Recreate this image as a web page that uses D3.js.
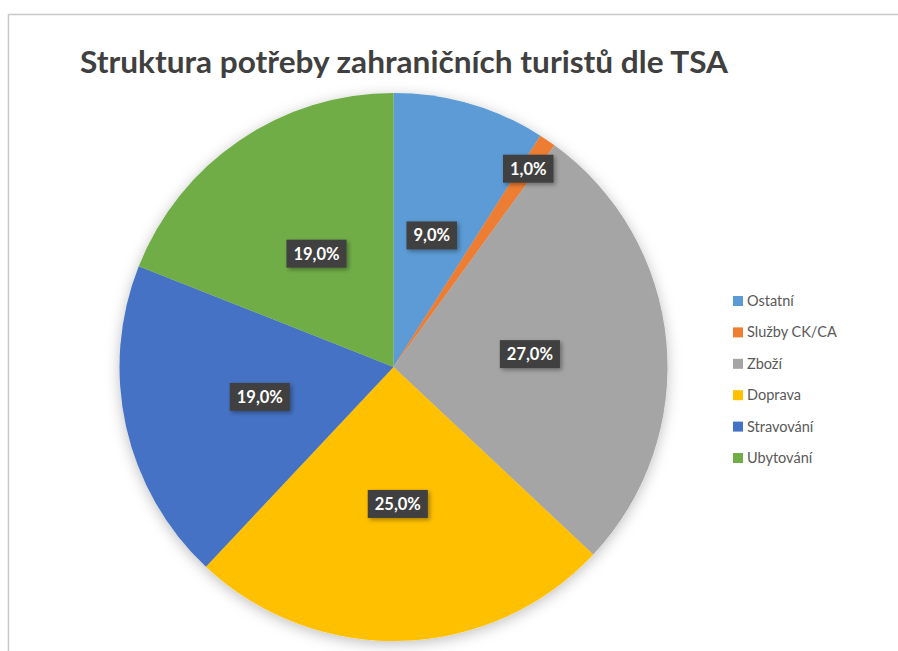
<!DOCTYPE html>
<html>
<head>
<meta charset="utf-8">
<script src="https://cdn.jsdelivr.net/npm/d3@7"></script>
<style>
  body { margin: 0; background: #fff; }
  svg { display: block; font-family: Lato, "Open Sans", sans-serif; }
</style>
</head>
<body>
<svg width="898" height="651"></svg>
<script>
var categories = ["Ostatní", "Služby CK/CA", "Zboží", "Doprava", "Stravování", "Ubytování"],
    values = [9, 1, 27, 25, 19, 19],
    colors = ["#5B9BD5", "#ED7D31", "#A5A5A5", "#FFC000", "#4472C4", "#70AD47"];

var svg = d3.select("svg"),
    width = +svg.attr("width"),
    height = +svg.attr("height");

var cx = 393.5, cy = 367, radius = 274;

var defs = svg.append("defs");
var sh = defs.append("filter").attr("id", "pieShadow")
    .attr("x", "-20%").attr("y", "-20%").attr("width", "140%").attr("height", "140%");
sh.append("feDropShadow").attr("dx", 0).attr("dy", 3).attr("stdDeviation", 7)
    .attr("flood-color", "#000").attr("flood-opacity", 0.25);
var lsh = defs.append("filter").attr("id", "lblShadow")
    .attr("x", "-30%").attr("y", "-30%").attr("width", "160%").attr("height", "160%");
lsh.append("feDropShadow").attr("dx", 2).attr("dy", 2).attr("stdDeviation", 2)
    .attr("flood-color", "#000").attr("flood-opacity", 0.35);

// chart border (top and left visible)
svg.append("path")
    .attr("d", "M8.5," + height + "V14.5H" + width)
    .attr("fill", "none")
    .attr("stroke", "#c8c8c8")
    .attr("stroke-width", 1.5);

svg.append("text")
    .attr("x", 80)
    .attr("y", 73)
    .attr("font-size", 31)
    .attr("font-weight", "bold")
    .attr("fill", "#404040")
    .attr("textLength", 648)
    .attr("lengthAdjust", "spacingAndGlyphs")
    .text("Struktura potřeby zahraničních turistů dle TSA");

var pie = d3.pie().sort(null).value(function(d) { return d; });
var arcs = pie(values);

var arc = d3.arc().innerRadius(0).outerRadius(radius);

var g = svg.append("g").attr("transform", "translate(" + cx + "," + cy + ")");

g.append("g")
    .attr("filter", "url(#pieShadow)")
  .selectAll("path")
    .data(arcs)
    .enter()
  .append("path")
    .attr("d", arc)
    .attr("fill", function(d, i) { return colors[i]; });

var fmt = function(v) { return d3.format(".1f")(v).replace(".", ",") + "%"; };

var labels = g.append("g")
  .selectAll("g")
    .data(arcs)
    .enter()
  .append("g")
    .attr("transform", function(d) {
        var k = d.value < 3 ? 0.875 : 0.5;
        var c = d3.arc().innerRadius(radius * k).outerRadius(radius * k).centroid(d);
        return "translate(" + c[0] + "," + c[1] + ")";
    });

labels.each(function(d) {
    var sel = d3.select(this);
    var rect = sel.append("rect").attr("fill", "#404040").attr("filter", "url(#lblShadow)");
    var t = sel.append("text")
        .attr("text-anchor", "middle")
        .attr("dy", "0.36em")
        .attr("font-size", 16.5)
        .attr("font-weight", "bold")
        .attr("fill", "#fff")
        .text(fmt(d.value));
    var b = t.node().getBBox();
    rect.attr("x", b.x - 7).attr("y", -14).attr("width", b.width + 14).attr("height", 28);
});

var legend = svg.append("g")
    .attr("transform", "translate(733,301)");

var item = legend.selectAll("g")
    .data(categories)
    .enter()
  .append("g")
    .attr("transform", function(d, i) { return "translate(0," + (i * 31.4) + ")"; });

item.append("rect")
    .attr("x", 0)
    .attr("y", -5)
    .attr("width", 10)
    .attr("height", 10)
    .attr("fill", function(d, i) { return colors[i]; });

item.append("text")
    .attr("x", 14)
    .attr("dy", "0.35em")
    .attr("font-size", 14.5)
    .attr("fill", "#595959")
    .text(function(d) { return d; });
</script>
</body>
</html>
